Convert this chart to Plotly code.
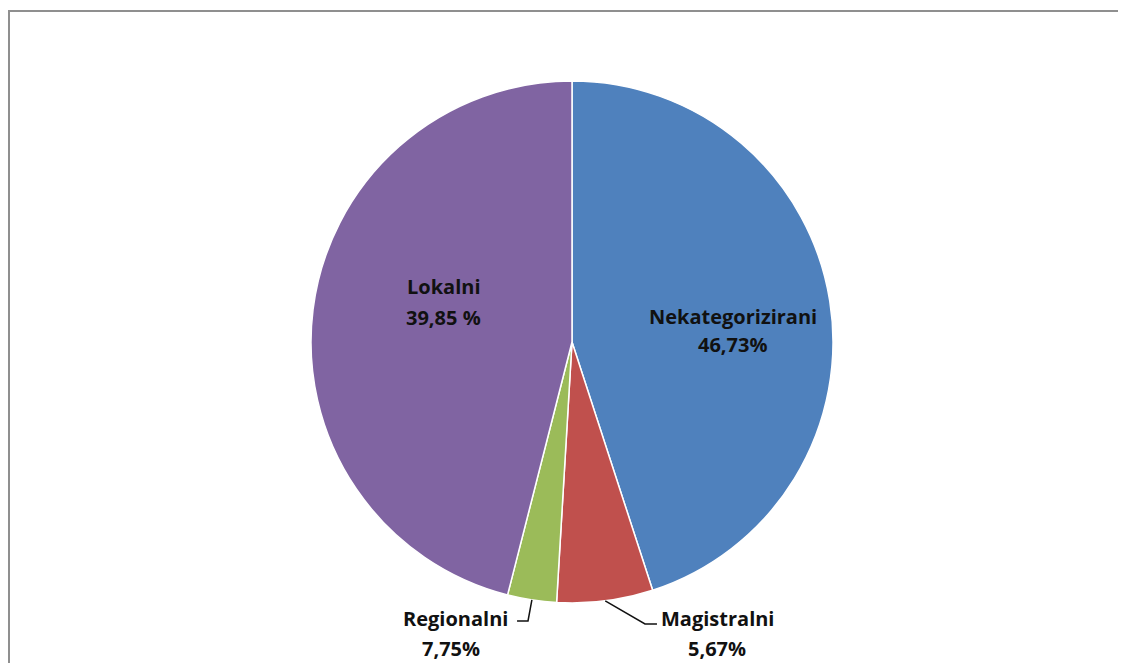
import math
import plotly.graph_objects as go

# slices, clockwise from 12 o'clock
categories = ["Nekategorizirani", "Magistralni", "Regionalni", "Lokalni"]
values = [45.0, 5.94, 3.03, 46.03]
pct_labels = ["46,73%", "5,67%", "7,75%", "39,85 %"]
colors = ["#4F81BD", "#C0504D", "#9BBB59", "#8064A2"]

# page puts the plot 8px in from the top-left corner
OFF = 8
W, H = 1126 - OFF, 663 - OFF
M = dict(l=10, r=0, t=73, b=60)
PW = W - M["l"] - M["r"]
PH = H - M["t"] - M["b"]
CX, CY = M["l"] + PW / 2, M["t"] + PH / 2
R = min(PW, PH) / 2


def px(x, y):
    """screen pixel position -> paper coords"""
    x, y = x - OFF, y - OFF
    return (x - M["l"]) / PW, (H - M["b"] - y) / PH


def edge_point(i):
    """screen point on the rim at the middle of slice i"""
    total = sum(values)
    start = sum(values[:i]) / total * 360
    mid = math.radians(start + values[i] / total * 180)
    return CX + OFF + R * math.sin(mid), CY + OFF - R * math.cos(mid)


fig = go.Figure()

fig.add_trace(
    go.Pie(
        labels=categories,
        values=values,
        sort=False,
        direction="clockwise",
        rotation=0,
        marker=dict(colors=colors, line=dict(color="white", width=1.5)),
        textinfo="none",
        hoverinfo="label+value",
        showlegend=False,
    )
)

font = dict(family="Open Sans", size=20, color="#111111", weight="bold")

# label positions (screen pixels): name line, percent line
label_pos = {
    "Nekategorizirani": ((733, 316), (732, 344)),
    "Magistralni": ((717, 618), (717, 648)),
    "Regionalni": ((455, 618), (451, 648)),
    "Lokalni": ((444, 286), (443, 317)),
}

annotations = []
for name, pct in zip(categories, pct_labels):
    (x1, y1), (x2, y2) = label_pos[name]
    for txt, (x, y) in ((name, (x1, y1)), (pct, (x2, y2))):
        ax, ay = px(x, y)
        annotations.append(dict(
            x=ax, y=ay, xref="paper", yref="paper", text=txt,
            showarrow=False, font=font, xanchor="center", yanchor="middle"
        ))

shapes = []
# leader lines for the small slices
elbows = {
    "Magistralni": [(645, 624), (657, 624)],
    "Regionalni": [(528, 621), (517, 621)],
}
for name, pts in elbows.items():
    i = categories.index(name)
    path_pts = [edge_point(i)] + pts
    coords = [px(x, y) for x, y in path_pts]
    path = "M " + " L ".join(f"{x:.4f},{y:.4f}" for x, y in coords)
    shapes.append(dict(type="path", path=path, xref="paper", yref="paper",
                       line=dict(color="#111111", width=1.5)))

# chart area frame (right and bottom edges run off the picture)
bx0, by1 = px(OFF + 1, 11)
bx1, by0 = px(1126 + 10, 663 + 10)
shapes.append(dict(type="rect", xref="paper", yref="paper",
                   x0=bx0, y0=by0, x1=bx1, y1=by1,
                   line=dict(color="#8f8f8f", width=2), layer="below"))

fig.update_layout(
    width=W,
    height=H,
    margin=M,
    paper_bgcolor="white",
    plot_bgcolor="white",
    annotations=annotations,
    shapes=shapes,
)

fig.write_html("out.html")
